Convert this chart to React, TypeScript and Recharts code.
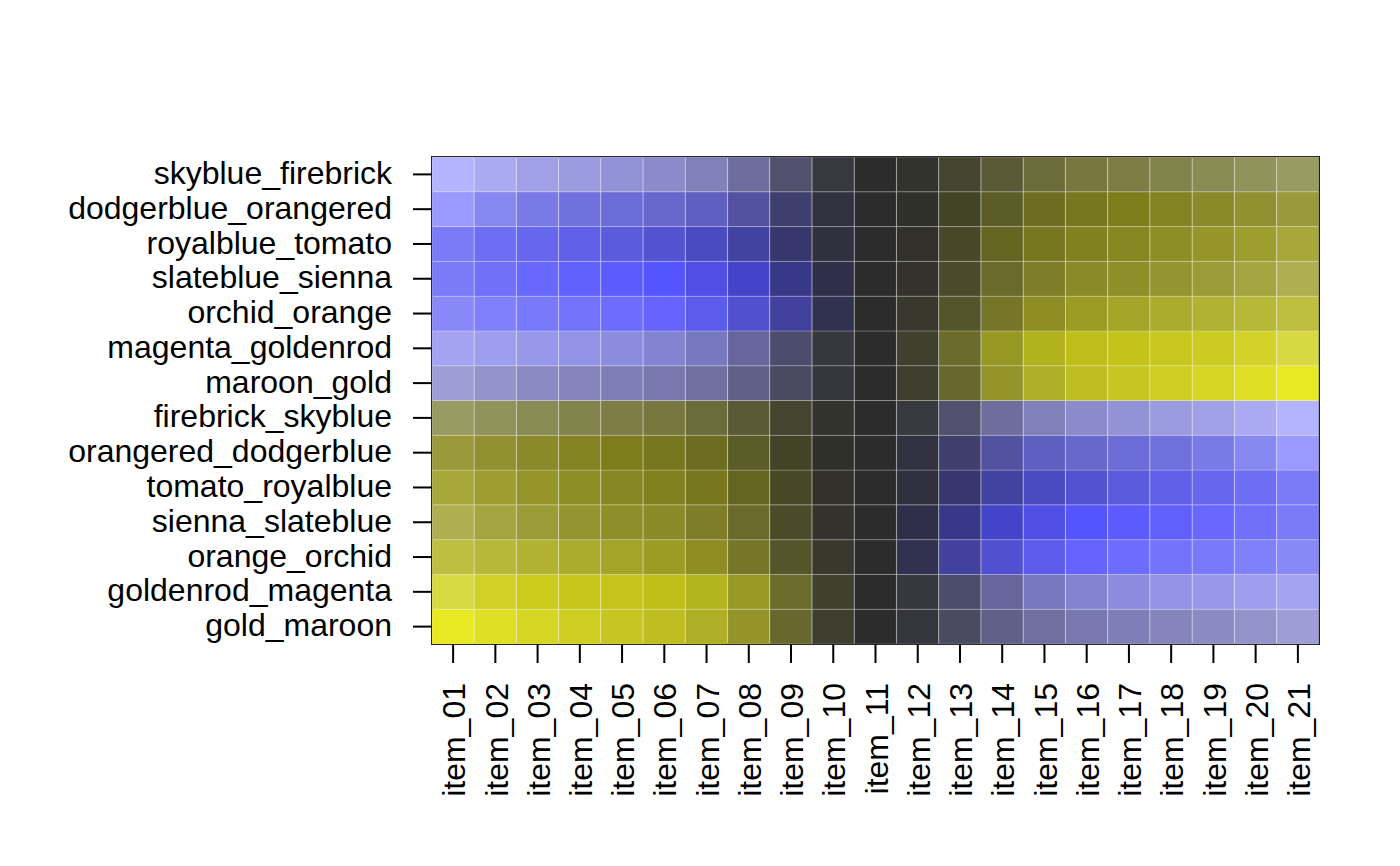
import React from 'react';
import { BarChart, Bar, XAxis, YAxis, Cell, ReferenceArea } from 'recharts';

const items = [
  'item_01', 'item_02', 'item_03', 'item_04', 'item_05', 'item_06', 'item_07',
  'item_08', 'item_09', 'item_10', 'item_11', 'item_12', 'item_13', 'item_14',
  'item_15', 'item_16', 'item_17', 'item_18', 'item_19', 'item_20', 'item_21',
];

// Row labels, top to bottom
const rowLabels = [
  'skyblue_firebrick', 'dodgerblue_orangered', 'royalblue_tomato', 'slateblue_sienna',
  'orchid_orange', 'magenta_goldenrod', 'maroon_gold', 'firebrick_skyblue',
  'orangered_dodgerblue', 'tomato_royalblue', 'sienna_slateblue', 'orange_orchid',
  'goldenrod_magenta', 'gold_maroon',
];

// Cell colours per row (item_01 .. item_21)
const skyblue_firebrick = ['#B3B3FF','#AAAAF2','#A0A0E6','#9A9ADE','#9292D6','#8B8BCB','#8080BB','#6E6E9E','#51516E','#38383F','#2C2C2C','#33332D','#44442F','#5A5A37','#6C6C3B','#77773F','#7D7D45','#83834C','#8A8A54','#92925B','#9A9A63'];
const dodgerblue_orangered = ['#9999FF','#8787F0','#7A7AE6','#7171DD','#6C6CD6','#6767CC','#5F5FBF','#5252A0','#3F3F6E','#31313F','#2C2C2C','#30302B','#434328','#5C5C28','#6D6D22','#77771F','#7D7D1C','#838322','#8A8A2A','#919131','#9A9A3C'];
const royalblue_tomato = ['#7B7BF7','#6E6EF2','#6666EE','#6060E8','#5B5BDE','#5353D2','#4B4BC0','#4242A0','#37376E','#30303F','#2C2C2C','#31312A','#484826','#656522','#777720','#818120','#878722','#8E8E26','#95952A','#9D9D30','#A7A73A'];
const slateblue_sienna = ['#7B7BF8','#7070FA','#6868FC','#6060FD','#5B5BFE','#5555FF','#4F4FE6','#4444C8','#383888','#2F2F4A','#2C2C2C','#33332B','#4B4B29','#6A6A2A','#7E7E28','#8A8A28','#8F8F2A','#959530','#9C9C36','#A5A540','#AFAF52'];
const orchid_orange = ['#8888F8','#8080FA','#7979FC','#7373FD','#6C6CFE','#6464FC','#5C5CEC','#5050D0','#42429E','#313150','#2C2C2C','#38382C','#55552B','#767628','#8D8D24','#9C9C24','#A4A428','#ABAB2D','#B2B232','#B8B838','#BEBE40'];
const magenta_goldenrod = ['#A3A3F2','#9E9EEE','#9898EA','#9292E6','#8C8CDE','#8383D2','#7878BE','#66669C','#4C4C6C','#37373F','#2C2C2C','#40402F','#6A6A2B','#979724','#B2B21E','#BEBE1A','#C3C31C','#C7C71E','#CBCB22','#D2D228','#D8D842'];
const maroon_gold = ['#9E9ED6','#9393CC','#8B8BC4','#8585BC','#7F7FB7','#7878AE','#7070A0','#616188','#4A4A60','#35353E','#2C2C2C','#3E3E2E','#68682E','#94942A','#AFAF26','#BEBE22','#C6C622','#CECE22','#D6D624','#DFDF26','#E8E823'];
const firebrick_skyblue = ['#9A9A63','#92925B','#8A8A54','#83834C','#7D7D45','#77773F','#6C6C3B','#5A5A37','#44442F','#33332D','#2C2C2C','#38383F','#51516E','#6E6E9E','#8080BB','#8B8BCB','#9292D6','#9A9ADE','#A0A0E6','#AAAAF2','#B3B3FF'];
const orangered_dodgerblue = ['#9A9A3C','#919131','#8A8A2A','#838322','#7D7D1C','#77771F','#6D6D22','#5C5C28','#434328','#30302B','#2C2C2C','#31313F','#3F3F6E','#5252A0','#5F5FBF','#6767CC','#6C6CD6','#7171DD','#7A7AE6','#8787F0','#9999FF'];
const tomato_royalblue = ['#A7A73A','#9D9D30','#95952A','#8E8E26','#878722','#818120','#777720','#656522','#484826','#31312A','#2C2C2C','#30303F','#37376E','#4242A0','#4B4BC0','#5353D2','#5B5BDE','#6060E8','#6666EE','#6E6EF2','#7B7BF7'];
const sienna_slateblue = ['#AFAF52','#A5A540','#9C9C36','#959530','#8F8F2A','#8A8A28','#7E7E28','#6A6A2A','#4B4B29','#33332B','#2C2C2C','#2F2F4A','#383888','#4444C8','#4F4FE6','#5555FF','#5B5BFE','#6060FD','#6868FC','#7070FA','#7B7BF8'];
const orange_orchid = ['#BEBE40','#B8B838','#B2B232','#ABAB2D','#A4A428','#9C9C24','#8D8D24','#767628','#55552B','#38382C','#2C2C2C','#313150','#42429E','#5050D0','#5C5CEC','#6464FC','#6C6CFE','#7373FD','#7979FC','#8080FA','#8888F8'];
const goldenrod_magenta = ['#D9D944','#D2D226','#CBCB1E','#C7C71B','#C4C41B','#BFBF1A','#B4B420','#999926','#6C6C2B','#40402F','#2C2C2C','#37373F','#4C4C6C','#66669C','#7878BE','#8383D2','#8C8CDE','#9292E6','#9898EA','#9E9EEE','#A3A3F2'];
const gold_maroon = ['#E8E823','#DFDF26','#D6D624','#CECE22','#C6C622','#BEBE22','#AFAF26','#94942A','#68682E','#3E3E2E','#2C2C2C','#35353E','#4A4A60','#616188','#7070A0','#7878AE','#7F7FB7','#8585BC','#8B8BC4','#9393CC','#9E9ED6'];

const rowColors = [
  skyblue_firebrick, dodgerblue_orangered, royalblue_tomato, slateblue_sienna,
  orchid_orange, magenta_goldenrod, maroon_gold, firebrick_skyblue,
  orangered_dodgerblue, tomato_royalblue, sienna_slateblue, orange_orchid,
  goldenrod_magenta, gold_maroon,
];

const FONT = '"Liberation Sans", Arial, Helvetica, sans-serif';
const nRows = rowLabels.length;

const data = items.map((item) => {
  const d: Record<string, any> = { item };
  rowLabels.forEach((_, r) => {
    d[`r${r}`] = 1;
  });
  return d;
});

const yTicks = rowLabels.map((_, r) => nRows - 0.5 - r);

const YTick = (props: any) => {
  const { x, y, payload } = props;
  const idx = Math.round(nRows - 0.5 - payload.value);
  return (
    <text x={x} y={y} dy="0.3em" textAnchor="end" fontSize={32} fontFamily={FONT} fill="#000">
      {rowLabels[idx]}
    </text>
  );
};

const XTick = (props: any) => {
  const { x, y, payload } = props;
  return (
    <text
      x={x}
      y={y}
      dy="0.38em"
      textAnchor="end"
      fontSize={32}
      fontFamily={FONT}
      fill="#000"
      transform={`rotate(-90, ${x}, ${y})`}
    >
      {payload.value}
    </text>
  );
};

// stacking order: bottom row first
const stackOrder = rowLabels.map((_, r) => nRows - 1 - r);

export default function App() {
  return (
    <div style={{ position: 'absolute', left: 0, top: 0, width: 1400, height: 866, background: '#fff' }}>
      <BarChart
        width={1400}
        height={866}
        data={data}
        margin={{ top: 157, right: 81, bottom: 0, left: 0 }}
        barCategoryGap={0}
        barGap={0}
      >
        <XAxis
          dataKey="item"
          type="category"
          interval={0}
          height={222}
          axisLine={false}
          tickSize={19}
          tickMargin={20}
          tickLine={{ stroke: '#000', strokeWidth: 2 }}
          tick={<XTick />}
        />
        <YAxis
          type="number"
          domain={[0, nRows]}
          ticks={yTicks}
          interval={0}
          width={432}
          axisLine={false}
          tickSize={19}
          tickMargin={21}
          tickLine={{ stroke: '#000', strokeWidth: 2 }}
          tick={<YTick />}
        />
        {stackOrder.map((r) => (
          <Bar key={r} dataKey={`r${r}`} stackId="s" isAnimationActive={false}>
            {items.map((it, i) => (
              <Cell
                key={it}
                fill={rowColors[r][i]}
                stroke="#ffffff"
                strokeOpacity={0.22}
                strokeWidth={1}
              />
            ))}
          </Bar>
        ))}
        <ReferenceArea
          y1={0}
          y2={nRows}
          fill="none"
          fillOpacity={0}
          stroke="#111"
          strokeWidth={2}
          ifOverflow="visible"
        />
      </BarChart>
    </div>
  );
}
